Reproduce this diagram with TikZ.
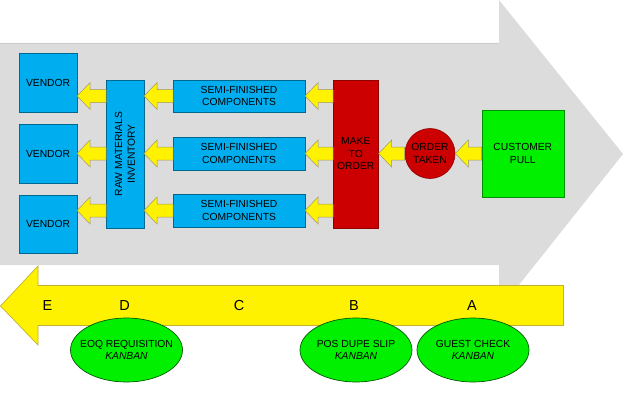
\documentclass[tikz,border=0pt]{standalone}
\usepackage{fontspec}
\setmainfont{Liberation Sans}
\usetikzlibrary{shapes.geometric,calc}
\definecolor{greyfill}{HTML}{DCDCDC}
\definecolor{bluefill}{HTML}{00AEEF}
\definecolor{redfill}{HTML}{CC0000}
\definecolor{greenfill}{HTML}{00F000}
\definecolor{yellowline}{HTML}{C4B030}
\tikzset{
  txt/.style={font=\fontsize{10.3pt}{12.7pt}\selectfont,align=center,text=black,inner sep=0pt},
  pxbox/.style={txt,draw,line width=0.6pt,anchor=north west},
  bluebox/.style={pxbox,fill=bluefill,draw=bluefill!60!black},
  redbox/.style={pxbox,fill=redfill,draw=redfill!70!black},
  greenbox/.style={pxbox,fill=greenfill,draw=greenfill!60!black},
  kanban/.style={txt,ellipse,inner sep=-25pt,fill=greenfill,draw=green!35!black,line width=0.7pt,minimum width=112pt,minimum height=64pt},
  letter/.style={font=\fontsize{14.5pt}{16pt}\selectfont,text=black,inner sep=0pt},
  smallarrow/.style={fill=yellow,draw=yellow!45!black!80,line width=0.5pt,line join=miter},
}
% \blockarrow{row y}{source node}{target node}: yellow block arrow pointing left
\newcommand{\blockarrow}[3]{%
  \draw[smallarrow] let \p1=(#2.west), \p2=(#3.east) in
    (\x1,#1+6.5) -- (\x2+13,#1+6.5) -- (\x2+13,#1+13.5) -- (\x2,#1) --
    (\x2+13,#1-13.5) -- (\x2+13,#1-6.5) -- (\x1,#1-6.5) -- cycle;}
\begin{document}
\begin{tikzpicture}[x=1pt,y=-1pt]
\useasboundingbox (0,0) rectangle (636,404);
% large grey arrow
\fill[greyfill] (0,43) -- (499,43) -- (499,0) -- (623,154) -- (499,310) -- (499,265) -- (0,265) -- cycle;
\draw[black!20,line width=0.5pt] (0,43) -- (499,43);
% large yellow arrow
\draw[fill=yellow,draw=yellowline,line width=0.7pt] (563.5,285.5) -- (38,285.5) -- (38,266) -- (0.5,306) -- (38,345) -- (38,325.5) -- (563.5,325.5) -- cycle;
% boxes
\node[bluebox,minimum width=57.5pt,minimum height=58.5pt] (v1) at (19,53) {VENDOR};
\node[bluebox,minimum width=57.5pt,minimum height=58.5pt] (v2) at (19,124) {VENDOR};
\node[bluebox,minimum width=57.5pt,minimum height=58pt] (v3) at (19,195) {VENDOR};
\node[bluebox,minimum width=37.5pt,minimum height=148.5pt] (raw) at (106,79.5) {};
\node[txt,rotate=90] (rawlabel) at (125,154) {RAW MATERIALS\\INVENTORY};
\node[bluebox,minimum width=131.5pt,minimum height=32.5pt] (s1) at (173,79.5) {SEMI-FINISHED\\COMPONENTS};
\node[bluebox,minimum width=131.5pt,minimum height=32.5pt] (s2) at (173,137) {SEMI-FINISHED\\COMPONENTS};
\node[bluebox,minimum width=131.5pt,minimum height=32.5pt] (s3) at (173,194) {SEMI-FINISHED\\COMPONENTS};
\node[redbox,minimum width=45pt,minimum height=148pt] (make) at (333,79.5) {MAKE\\TO\\ORDER};
\node[txt,circle,fill=redfill,draw=redfill!70!black,line width=0.6pt,minimum size=50pt] (order) at (430,153.5) {ORDER\\TAKEN};
\node[greenbox,minimum width=82pt,minimum height=87pt] (cust) at (481.5,110) {CUSTOMER\\PULL};
% block arrows
\blockarrow{96}{raw}{v1}
\blockarrow{153.5}{raw}{v2}
\blockarrow{210.5}{raw}{v3}
\blockarrow{96}{s1}{raw}
\blockarrow{153.5}{s2}{raw}
\blockarrow{210.5}{s3}{raw}
\blockarrow{96}{make}{s1}
\blockarrow{153.5}{make}{s2}
\blockarrow{210.5}{make}{s3}
\blockarrow{153.5}{order}{make}
\blockarrow{153.5}{cust}{order}
% kanban ellipses
\node[kanban] (eoq) at (126.5,350) {EOQ REQUISITION\\\textit{KANBAN}};
\node[kanban] (pos) at (356,350) {POS DUPE SLIP\\\textit{KANBAN}};
\node[kanban] (guest) at (473,350) {GUEST CHECK\\\textit{KANBAN}};
% letters
\node[letter] (le) at (47.5,306) {E};
\node[letter] (ld) at (124.5,306) {D};
\node[letter] (lc) at (239,306) {C};
\node[letter] (lb) at (354,306) {B};
\node[letter] (la) at (472,306) {A};
\end{tikzpicture}
\end{document}
